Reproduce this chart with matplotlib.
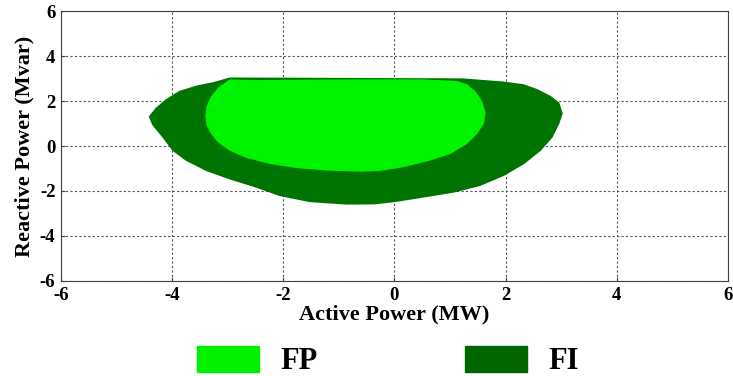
import matplotlib.pyplot as plt
from matplotlib.patches import Patch

# outer boundary of the FI region (MW, Mvar)
fi_p = [-2.96, -3.26, -3.56, -3.86, -4.10, -4.28, -4.40, -4.34, -4.16, -3.98, -3.74,
        -3.38, -2.96, -2.48, -2.06, -1.52, -0.86, -0.36, 0.0, 0.46, 1.06, 1.54, 1.96,
        2.32, 2.62, 2.83, 2.95, 3.01, 2.95, 2.80, 2.56, 2.32, 1.96, 1.54, 1.24]
fi_q = [3.0, 2.79, 2.64, 2.41, 2.04, 1.67, 1.30, 0.95, 0.41, -0.18, -0.62,
        -1.07, -1.44, -1.81, -2.18, -2.45, -2.56, -2.55, -2.45, -2.27, -2.03, -1.73, -1.29,
        -0.77, -0.18, 0.41, 1.01, 1.45, 1.90, 2.19, 2.49, 2.70, 2.82, 2.90, 2.96]

# boundary of the FP region
fp_p = [-2.96, -3.17, -3.29, -3.37, -3.39, -3.37, -3.29, -3.17, -2.96, -2.66, -2.24,
        -1.76, -1.16, -0.60, -0.26, 0.16, 0.64, 1.0, 1.30, 1.48, 1.60, 1.63, 1.57, 1.45,
        1.30, 1.12, 0.5, -0.5, -1.5, -2.5]
fp_q = [2.93, 2.56, 2.19, 1.75, 1.30, 0.93, 0.56, 0.19, -0.18, -0.50, -0.77,
        -0.95, -1.07, -1.11, -1.08, -0.91, -0.62, -0.33, 0.12, 0.56, 1.01, 1.45, 1.97, 2.41,
        2.71, 2.86, 2.93, 2.93, 2.92, 2.9]

ticks = [-6, -4, -2, 0, 2, 4, 6]

plt.rcParams['font.family'] = ['Liberation Serif', 'DejaVu Serif']
plt.rcParams['font.weight'] = 'bold'
plt.rcParams['axes.unicode_minus'] = False

fig = plt.figure(figsize=(7.33, 3.76), dpi=100)
ax = fig.add_axes([0.0832, 0.2527, 0.9098, 0.718])

fi_col = '#007400'
fp_col = '#00f400'
ax.fill(fi_p, fi_q, color=fi_col, lw=1.5, zorder=3)
ax.fill(fp_p, fp_q, color=fp_col, lw=1.0, zorder=4)

ax.set_xlim(-6, 6)
ax.set_ylim(-6, 6)
ax.set_xticks(ticks)
ax.set_yticks(ticks)
ax.grid(True, ls=(0, (2, 2)), color='#555555', lw=0.8, zorder=0)
ax.tick_params(direction='in', length=3, labelsize=13.5, color='#404040', pad=4)
for s in ax.spines.values():
    s.set_color('#404040')
for lab in ax.get_xticklabels() + ax.get_yticklabels():
    lab.set_fontweight('bold')

ax.set_xlabel('Active Power (MW)', fontsize=16, fontweight='bold', labelpad=1)
ax.set_ylabel('Reactive Power (Mvar)', fontsize=16, fontweight='bold', labelpad=4)

handles = [Patch(color='#00f000', label='FP'), Patch(color='#006600', label='FI')]
fig.legend(handles=handles, loc='upper left', bbox_to_anchor=(197 / 733, 1 - 346 / 376), ncol=2,
           frameon=False, handlelength=2.03, handleheight=0.92,
           handletextpad=0.69, columnspacing=4.83, borderpad=0, borderaxespad=0,
           prop={'weight': 'bold', 'size': 22})

fig.savefig('out.png', dpi=100)
